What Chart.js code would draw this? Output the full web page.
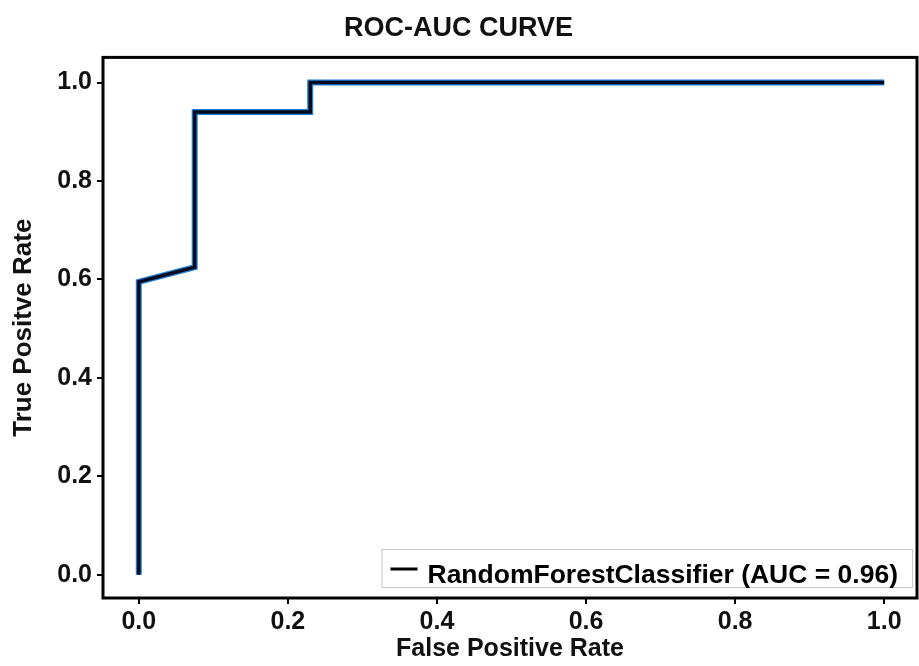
<!DOCTYPE html>
<html>
<head>
<meta charset="utf-8">
<script src="https://cdn.jsdelivr.net/npm/chart.js@4.4.1/dist/chart.umd.min.js"></script>
<style>
  body { margin: 0; background: #fff; }
  #wrap { width: 919px; height: 666px; }
</style>
</head>
<body>
<div id="wrap"><canvas id="roc" width="919" height="666"></canvas></div>
<script>
// ROC curve points
const fpr = [0, 0, 0.075, 0.075, 0.23, 0.23, 1.0];
const tpr = [0, 0.595, 0.625, 0.94, 0.94, 1.0, 1.0];
const xTickValues = [0, 0.2, 0.4, 0.6, 0.8, 1.0];
const yTickValues = [0, 0.2, 0.4, 0.6, 0.8, 1.0];
const seriesLabel = 'RandomForestClassifier (AUC = 0.96)';

const FONT = "'Liberation Sans', Arial, sans-serif";
// chaque dataset a sa propre copie (Chart.js n'aime pas partager le tableau)
const makePoints = () => fpr.map((x, i) => ({ x: x, y: tpr[i] }));

// cadre noir + légende en bas à droite dans la zone du graphe
const framePlugin = {
    id: 'frame',
    afterDraw(chart) {
        const { ctx, chartArea: a } = chart;
        ctx.save();
        ctx.strokeStyle = '#000';
        ctx.lineWidth = 3;
        ctx.strokeRect(a.left, a.top, a.right - a.left, a.bottom - a.top);

        // légende
        ctx.font = `bold 26.5px ${FONT}`;
        const tw = ctx.measureText(seriesLabel).width;
        const boxW = 9 + 27 + 10 + tw + 14;
        const boxH = 38;
        const bx = a.right - 5 - boxW;
        const by = a.bottom - 11 - boxH;
        ctx.fillStyle = 'rgba(255,255,255,0.9)';
        ctx.fillRect(bx, by, boxW, boxH);
        ctx.strokeStyle = '#c8c8c8';
        ctx.lineWidth = 1;
        ctx.strokeRect(bx + 0.5, by + 0.5, boxW, boxH);
        ctx.strokeStyle = '#000';
        ctx.lineWidth = 3;
        ctx.beginPath();
        ctx.moveTo(bx + 9, by + 20);
        ctx.lineTo(bx + 36, by + 20);
        ctx.stroke();
        ctx.fillStyle = '#000';
        ctx.textBaseline = 'alphabetic';
        ctx.fillText(seriesLabel, bx + 46, by + 34);
        ctx.restore();
    }
};

new Chart(document.getElementById('roc'), {
    type: 'scatter',
    data: {
        datasets: [
            {
                label: 'edge',
                data: makePoints(),
                showLine: true,
                borderColor: '#1f7fd6',
                borderWidth: 6,
                pointRadius: 0,
                fill: false,
                order: 2
            },
            {
                label: seriesLabel,
                data: makePoints(),
                showLine: true,
                borderColor: '#050b1e',
                borderWidth: 3.5,
                pointRadius: 0,
                fill: false,
                order: 1
            }
        ]
    },
    options: {
        responsive: false,
        animation: false,
        layout: { padding: { left: 0, right: 2, top: 0, bottom: 0 } },
        plugins: {
            legend: { display: false },
            tooltip: { enabled: false },
            title: {
                display: true,
                text: 'ROC-AUC CURVE',
                color: '#111',
                font: { family: FONT, size: 27, weight: 'bold' },
                padding: { top: 12, bottom: 13 }
            }
        },
        scales: {
            x: {
                type: 'linear',
                min: -0.048,
                max: 1.044,
                afterBuildTicks: s => { s.ticks = xTickValues.map(v => ({ value: v })); },
                afterFit: s => { s.height = 68; },
                border: { display: false },
                grid: { display: true, drawOnChartArea: false, drawTicks: true, tickLength: 6, color: '#000', lineWidth: 2 },
                ticks: {
                    color: '#111',
                    padding: 3,
                    font: { family: FONT, size: 25, weight: 'bold' },
                    callback: v => Number(v).toFixed(1)
                },
                title: {
                    display: true,
                    text: 'False Positive Rate',
                    color: '#111',
                    font: { family: FONT, size: 25, weight: 'bold' },
                    padding: { top: 0, bottom: 2 }
                }
            },
            y: {
                type: 'linear',
                min: -0.047,
                max: 1.051,
                afterBuildTicks: s => { s.ticks = yTickValues.map(v => ({ value: v })); },
                afterFit: s => { s.width = 103; },
                border: { display: false },
                grid: { display: true, drawOnChartArea: false, drawTicks: true, tickLength: 6, color: '#000', lineWidth: 2 },
                ticks: {
                    color: '#111',
                    padding: 5,
                    font: { family: FONT, size: 25, weight: 'bold' },
                    callback: v => Number(v).toFixed(1)
                },
                title: {
                    display: true,
                    text: 'True Positve Rate',
                    color: '#111',
                    font: { family: FONT, size: 26, weight: 'bold' },
                    padding: { top: 8, bottom: 0 }
                }
            }
        }
    },
    plugins: [framePlugin]
});
</script>
</body>
</html>
